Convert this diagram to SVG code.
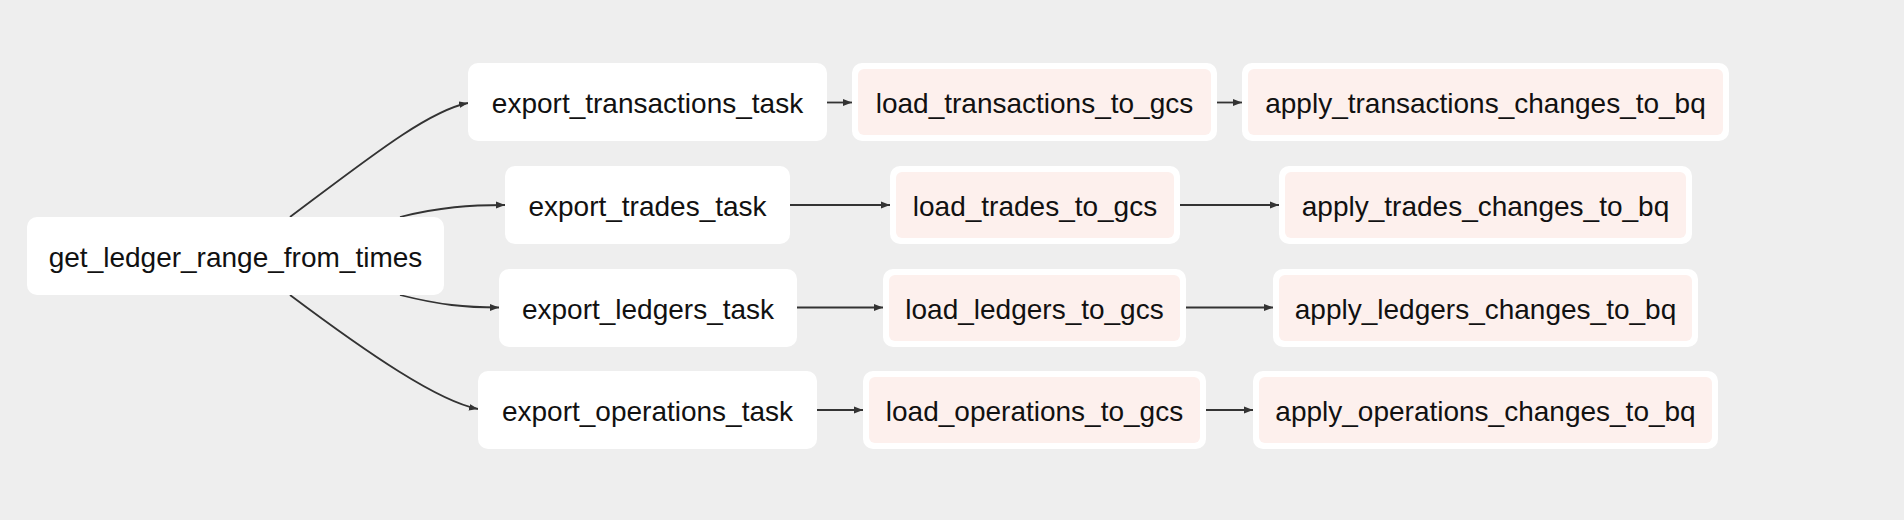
<svg xmlns="http://www.w3.org/2000/svg" width="1904" height="520" viewBox="0 0 1904 520">
<defs>
<style>
.bg{fill:#eeeeee}
.box{fill:#ffffff}
.pink{fill:#fdf0ed}
.lbl{font-family:"Liberation Sans",Arial,Helvetica,sans-serif;font-size:28px;fill:#111111;text-anchor:middle}
.edge{fill:none;stroke:#333333;stroke-width:1.8}
</style>
<marker id="arr" markerUnits="userSpaceOnUse" markerWidth="9" markerHeight="8" refX="9" refY="4" orient="auto">
<path d="M0,0.6 L9,4 L0,7.4 z" fill="#333333"/>
</marker>
</defs>
<rect class="bg" x="0" y="0" width="1904" height="520"/>
<g id="connectors">
<path class="edge" marker-end="url(#arr)" d="M290,217 C370,157 428,111 468,103"/>
<path class="edge" marker-end="url(#arr)" d="M400,217 C440,207 470,205 505,205"/>
<path class="edge" marker-end="url(#arr)" d="M400,295 C440,305 465,307.5 499,307.5"/>
<path class="edge" marker-end="url(#arr)" d="M290,295 C370,355 438,401 478,409"/>
<path class="edge" marker-end="url(#arr)" d="M827,102.5 L852,102.5"/>
<path class="edge" marker-end="url(#arr)" d="M1217,102.5 L1242,102.5"/>
<path class="edge" marker-end="url(#arr)" d="M790,205 L890,205"/>
<path class="edge" marker-end="url(#arr)" d="M1180,205 L1279,205"/>
<path class="edge" marker-end="url(#arr)" d="M797,307.5 L883,307.5"/>
<path class="edge" marker-end="url(#arr)" d="M1186,307.5 L1273,307.5"/>
<path class="edge" marker-end="url(#arr)" d="M817,410 L863,410"/>
<path class="edge" marker-end="url(#arr)" d="M1206,410 L1253,410"/>
</g>
<g id="get_ledger_range_from_times">
<rect class="box" x="27" y="217" width="417" height="78" rx="10"/>
<text class="lbl" x="235.5" y="267">get_ledger_range_from_times</text>
</g>
<g id="export_transactions_task">
<rect class="box" x="468" y="63" width="359" height="78" rx="10"/>
<text class="lbl" x="647.5" y="113">export_transactions_task</text>
</g>
<g id="export_trades_task">
<rect class="box" x="505" y="166" width="285" height="78" rx="10"/>
<text class="lbl" x="647.5" y="216">export_trades_task</text>
</g>
<g id="export_ledgers_task">
<rect class="box" x="499" y="269" width="298" height="78" rx="10"/>
<text class="lbl" x="648" y="319">export_ledgers_task</text>
</g>
<g id="export_operations_task">
<rect class="box" x="478" y="371" width="339" height="78" rx="10"/>
<text class="lbl" x="647.5" y="421">export_operations_task</text>
</g>
<g id="load_transactions_to_gcs">
<rect class="box" x="852" y="63" width="365" height="78" rx="10"/>
<rect class="pink" x="858" y="69" width="353" height="66" rx="6"/>
<text class="lbl" x="1034.5" y="113">load_transactions_to_gcs</text>
</g>
<g id="load_trades_to_gcs">
<rect class="box" x="890" y="166" width="290" height="78" rx="10"/>
<rect class="pink" x="896" y="172" width="278" height="66" rx="6"/>
<text class="lbl" x="1035" y="216">load_trades_to_gcs</text>
</g>
<g id="load_ledgers_to_gcs">
<rect class="box" x="883" y="269" width="303" height="78" rx="10"/>
<rect class="pink" x="889" y="275" width="291" height="66" rx="6"/>
<text class="lbl" x="1034.5" y="319">load_ledgers_to_gcs</text>
</g>
<g id="load_operations_to_gcs">
<rect class="box" x="863" y="371" width="343" height="78" rx="10"/>
<rect class="pink" x="869" y="377" width="331" height="66" rx="6"/>
<text class="lbl" x="1034.5" y="421">load_operations_to_gcs</text>
</g>
<g id="apply_transactions_changes_to_bq">
<rect class="box" x="1242" y="63" width="487" height="78" rx="10"/>
<rect class="pink" x="1248" y="69" width="475" height="66" rx="6"/>
<text class="lbl" x="1485.5" y="113">apply_transactions_changes_to_bq</text>
</g>
<g id="apply_trades_changes_to_bq">
<rect class="box" x="1279" y="166" width="413" height="78" rx="10"/>
<rect class="pink" x="1285" y="172" width="401" height="66" rx="6"/>
<text class="lbl" x="1485.5" y="216">apply_trades_changes_to_bq</text>
</g>
<g id="apply_ledgers_changes_to_bq">
<rect class="box" x="1273" y="269" width="425" height="78" rx="10"/>
<rect class="pink" x="1279" y="275" width="413" height="66" rx="6"/>
<text class="lbl" x="1485.5" y="319">apply_ledgers_changes_to_bq</text>
</g>
<g id="apply_operations_changes_to_bq">
<rect class="box" x="1253" y="371" width="465" height="78" rx="10"/>
<rect class="pink" x="1259" y="377" width="453" height="66" rx="6"/>
<text class="lbl" x="1485.5" y="421">apply_operations_changes_to_bq</text>
</g>
</svg>
